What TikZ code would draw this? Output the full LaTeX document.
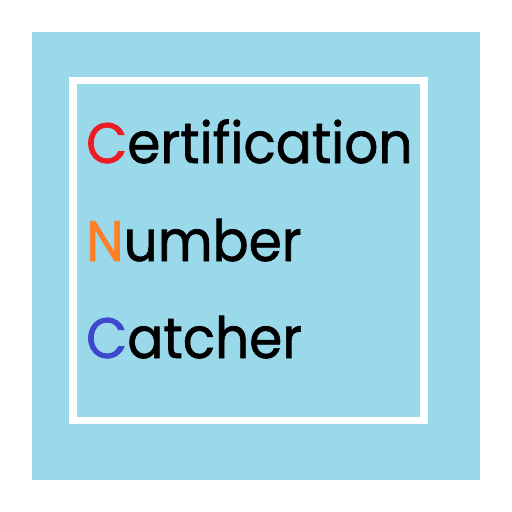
\documentclass[tikz,border=0pt]{standalone}
\usepackage{fontspec}
\newfontfamily\wordfont{Poppins}[FakeBold=1.2]
\definecolor{paintBlue}{HTML}{99D9EA}
\definecolor{capRed}{HTML}{ED1C24}
\definecolor{capOrange}{HTML}{FF7F27}
\definecolor{capBlue}{HTML}{3F48CC}

\begin{document}
\begin{tikzpicture}
[x=1pt,y=-1pt,
  boxDecorate/.style={fill=paintBlue,draw=none},%
  frameDecorate/.style={draw=white,line width=7.5pt},%
  wordDecorate/.style={anchor=base west,inner sep=0pt,font=\wordfont\fontsize{57}{57}\selectfont}]
\useasboundingbox (0,0) rectangle (512,512);
\fill[white] (0,0) rectangle (512,512);
%% background square and frame
\path[boxDecorate] (32,32) rectangle (480,480);
\draw[frameDecorate] (73,80.5) rectangle (424,420.5);
%% words
\foreach \nodename/\first/\rest/\col/\y in {
  cert/C/ertification/capRed/163,
  numb/N/umber/capOrange/261,
  catch/C/atcher/capBlue/358}
{
  \node (\nodename) at (86,\y) [wordDecorate] {\scalebox{0.935}[1]{\textcolor{\col}{\first}\rest}};
}
\end{tikzpicture}
\end{document}
